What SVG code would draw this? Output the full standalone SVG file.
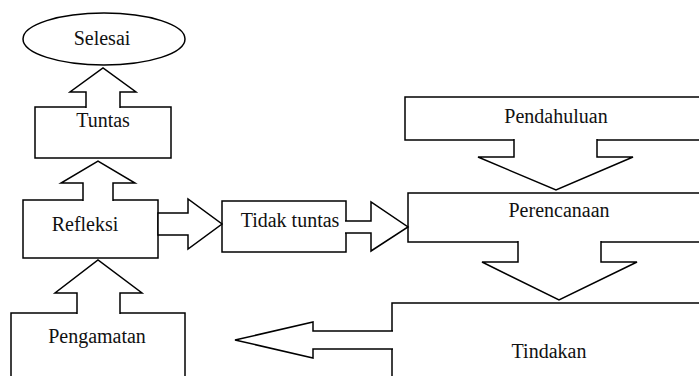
<svg xmlns="http://www.w3.org/2000/svg" width="699" height="376" viewBox="0 0 699 376">
<style>
.box{fill:#fff;stroke:#000;stroke-width:1.5}
.arr{fill:#fff;stroke:#000;stroke-width:1.5;stroke-linejoin:miter}
text{font-family:"Liberation Serif","Times New Roman",serif;font-size:20px;fill:#111;text-anchor:middle}
</style>
<rect width="699" height="376" fill="#fff"/>
<g id="node-selesai">
<ellipse class="box" cx="104" cy="39" rx="81" ry="26"/>
<text x="102" y="45">Selesai</text>
</g>
<g id="node-tuntas">
<rect class="box" x="35" y="107" width="136" height="51"/>
<text x="103" y="127">Tuntas</text>
</g>
<g id="node-refleksi">
<rect class="box" x="23" y="200" width="135" height="58"/>
<text x="85" y="231">Refleksi</text>
</g>
<g id="node-pengamatan">
<rect class="box" x="11" y="313" width="174" height="80"/>
<text x="97" y="343">Pengamatan</text>
</g>
<g id="node-tidak-tuntas">
<rect class="box" x="222" y="201" width="124" height="51"/>
</g>
<g id="node-pendahuluan">
<rect class="box" x="405" y="97" width="310" height="43"/>
<text x="556" y="123">Pendahuluan</text>
</g>
<g id="node-perencanaan">
<rect class="box" x="408" y="193" width="310" height="49"/>
</g>
<g id="node-tindakan">
<rect class="box" x="392" y="303" width="320" height="90"/>
</g>
<g id="connectors">
<path class="arr" d="M86,108 V92 H70 L103,68 L136,92 H120 V108"/>
<path class="arr" d="M83,201 V183 H61 L98,161 L135,183 H113 V201"/>
<path class="arr" d="M77,314 V293 H55 L98,260 L142,293 H120 V314"/>
<path class="arr" d="M158,213 H188 V199 L222,224 L188,249 V235 H158 Z"/>
<path class="arr" d="M345,221 H371 V202 L408,227 L371,251 V233 H345"/>
<path class="arr" d="M514,139 V157 H478 L556,190 L633,157 H597 V139"/>
<path class="arr" d="M518,241 V262 H482 L559,300 L637,262 H601 V241"/>
<path class="arr" d="M393,331 H313 V322 L235,340 L313,358 V349 H393"/>
</g>
<text x="290" y="227">Tidak tuntas</text>
<text x="559" y="217">Perencanaan</text>
<text x="549" y="358">Tindakan</text>
</svg>
